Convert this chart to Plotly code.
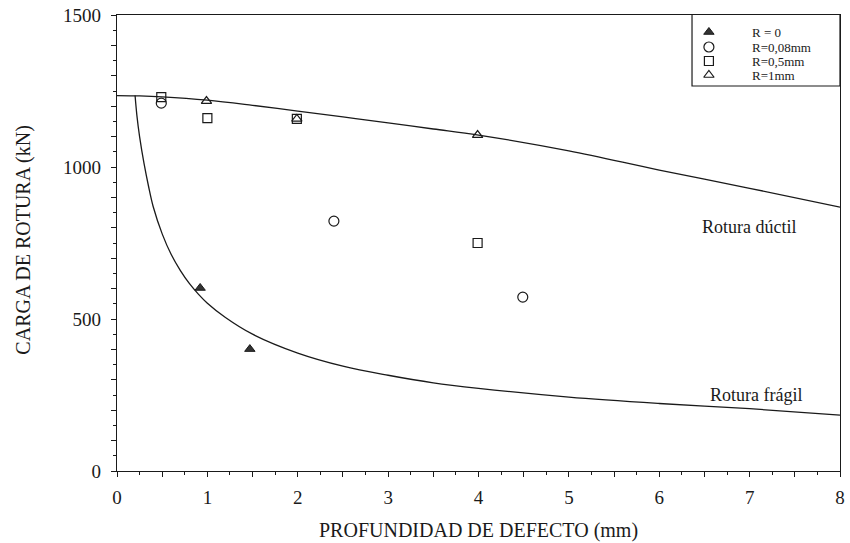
import plotly.graph_objects as go

# ---- data ----
ductil_x = [0, 0.25, 0.5, 1, 1.5, 2, 2.5, 3, 3.5, 4, 5, 6, 7, 8]
ductil_y = [1235, 1234, 1231, 1220, 1203, 1184, 1165, 1145, 1125, 1105, 1053, 990, 930, 868]

fragil_x = [0.2, 0.22, 0.25, 0.3, 0.35, 0.4, 0.5, 0.6, 0.7, 0.8, 0.9, 1.0, 1.2, 1.5,
            2, 2.5, 3, 3.5, 4, 5, 6, 7, 8]
fragil_y = [1235, 1170, 1100, 1010, 935, 870, 780, 712, 660, 617, 582, 552, 505, 450,
            388, 345, 315, 290, 272, 243, 222, 205, 184]

r0_x = [0.92, 1.47]
r0_y = [602, 401]
r008_x = [0.49, 2.40, 4.49]
r008_y = [1210, 822, 572]
r05_x = [0.49, 1.0, 1.99, 3.99]
r05_y = [1230, 1161, 1158, 750]
r1_x = [0.99, 1.99, 3.99]
r1_y = [1217, 1158, 1105]

series_names = ["R = 0", "R=0,08mm", "R=0,5mm", "R=1mm"]

x_ticks = [i * 0.5 for i in range(17)]
x_ticktext = [str(int(v)) if v == int(v) else "" for v in x_ticks]
y_ticks = list(range(0, 1501, 100))
y_ticktext = [str(v) if v % 500 == 0 else "" for v in y_ticks]

FONT = "Liberation Serif"
INK = "#1a1a1a"

styles = [
    dict(symbol="triangle-up", size=9, color="#333333", line=dict(color=INK, width=1)),
    dict(symbol="circle-open", size=10, color=INK, line=dict(width=1.2)),
    dict(symbol="square-open", size=9, color=INK, line=dict(width=1.2)),
    dict(symbol="triangle-up-open", size=9, color=INK, line=dict(width=1.2)),
]

fig = go.Figure()

fig.add_trace(go.Scatter(x=ductil_x, y=ductil_y, mode="lines", line=dict(color=INK, width=1.3),
                         showlegend=False, line_shape="spline"))
fig.add_trace(go.Scatter(x=fragil_x, y=fragil_y, mode="lines", line=dict(color=INK, width=1.3),
                         showlegend=False, line_shape="spline"))

for xs, ys, nm, st in zip([r0_x, r008_x, r05_x, r1_x], [r0_y, r008_y, r05_y, r1_y],
                          series_names, styles):
    fig.add_trace(go.Scatter(x=xs, y=ys, mode="markers", name=nm, marker=st, showlegend=False))

# ---- legend box drawn on an overlay axis measured in pixels ----
leg_rows = [32, 47, 61, 75]
for nm, st, ry in zip(series_names, styles, leg_rows):
    fig.add_trace(go.Scatter(x=[713], y=[ry], mode="markers", marker=st, showlegend=False,
                             xaxis="x2", yaxis="y2", hoverinfo="skip"))
    fig.add_annotation(x=754, y=ry, xref="x2", yref="y2", text=nm, showarrow=False,
                       xanchor="left", yanchor="middle",
                       font=dict(family=FONT, size=13, color=INK))
fig.add_shape(type="rect", xref="x2", yref="y2", x0=696, x1=845, y0=14, y1=86,
              line=dict(color=INK, width=1.2), fillcolor="white", layer="below")

fig.add_annotation(x=6.99, y=803, text="Rotura dúctil", showarrow=False,
                   font=dict(family=FONT, size=18, color=INK))
fig.add_annotation(x=7.07, y=250, text="Rotura frágil", showarrow=False,
                   font=dict(family=FONT, size=18, color=INK))

# axis titles
fig.add_annotation(x=(22 - 117) / 728, y=(471 - 240) / 456, xref="paper", yref="paper",
                   text="CARGA DE ROTURA (kN)", textangle=-90, showarrow=False,
                   xanchor="center", yanchor="middle",
                   font=dict(family=FONT, size=20, color=INK))
fig.add_annotation(x=(481 - 117) / 728, y=(471 - 530) / 456, xref="paper", yref="paper",
                   text="PROFUNDIDAD DE DEFECTO (mm)", showarrow=False,
                   xanchor="center", yanchor="middle",
                   font=dict(family=FONT, size=20, color=INK))

axis_common = dict(showline=True, linecolor=INK, linewidth=1.3, mirror=True,
                   ticks="outside", tickcolor=INK, tickwidth=1, ticklen=5,
                   showgrid=False, zeroline=False,
                   tickfont=dict(family=FONT, size=19, color=INK))

fig.update_xaxes(range=[0, 8], tickmode="array", tickvals=x_ticks, ticktext=x_ticktext,
                 minor=dict(dtick=0.25, ticks="outside", ticklen=3, tickcolor=INK, showgrid=False),
                 ticklabelstandoff=4,
                 **axis_common)
fig.update_yaxes(range=[0, 1500], tickmode="array", tickvals=y_ticks, ticktext=y_ticktext,
                 minor=dict(dtick=50, ticks="outside", ticklen=3, tickcolor=INK, showgrid=False),
                 ticklabelstandoff=6,
                 **axis_common)

fig.update_layout(
    width=850, height=543,
    margin=dict(l=117, r=5, t=15, b=72),
    paper_bgcolor="white", plot_bgcolor="white",
    showlegend=False,
    xaxis2=dict(overlaying="x", range=[117, 845], visible=False, fixedrange=True),
    yaxis2=dict(overlaying="y", range=[471, 15], visible=False, fixedrange=True),
)

fig.write_html("out.html")
